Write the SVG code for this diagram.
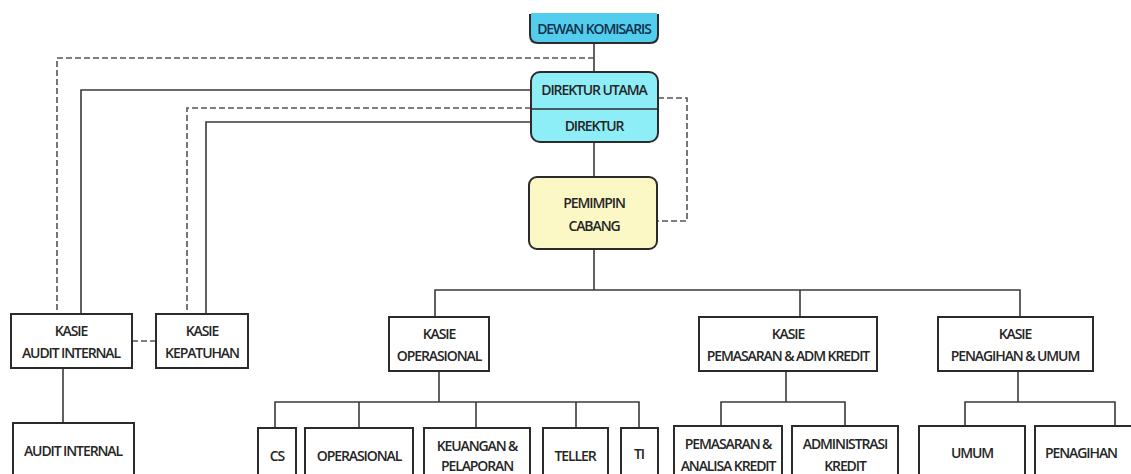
<svg xmlns="http://www.w3.org/2000/svg" width="1131" height="474" viewBox="0 0 1131 474">
<style>
.bx{fill:#fff;stroke:#2b2b2b;stroke-width:2}
.t{font-family:"Open Sans","Liberation Sans",sans-serif;font-size:14px;font-weight:600;fill:#262626;text-anchor:middle;dominant-baseline:central;letter-spacing:-1.1px}
.ln{fill:none;stroke:#3a3a3a;stroke-width:1.6}
.ds{fill:none;stroke:#555;stroke-width:1.6;stroke-dasharray:6 3}
</style>
<rect width="1131" height="474" fill="#fff"/>
<g id="connectors">
<line class="ln" x1="594" y1="43" x2="594" y2="72"/>
<path class="ds" d="M594 58 H57 V314"/>
<path class="ln" d="M531 90 H81 V314"/>
<path class="ds" d="M531 108 H187 V314"/>
<path class="ln" d="M531 122 H206 V314"/>
<path class="ds" d="M658 98 H687 V221 H657"/>
<line class="ln" x1="594" y1="142" x2="594" y2="177"/>
<line class="ln" x1="594" y1="249" x2="594" y2="290"/>
<path class="ln" d="M435 317 V290 H1020 V317"/>
<line class="ln" x1="800" y1="290" x2="800" y2="317"/>
<line class="ds" x1="132" y1="341" x2="156" y2="341"/>
<line class="ln" x1="63" y1="368" x2="63" y2="423"/>
<line class="ln" x1="439" y1="371" x2="439" y2="402"/>
<path class="ln" d="M275 428 V402 H639 V428"/>
<line class="ln" x1="359" y1="402" x2="359" y2="428"/>
<line class="ln" x1="476" y1="402" x2="476" y2="428"/>
<line class="ln" x1="576" y1="402" x2="576" y2="428"/>
<line class="ln" x1="786" y1="371" x2="786" y2="402"/>
<path class="ln" d="M721 426 V402 H845 V426"/>
<line class="ln" x1="1018" y1="371" x2="1018" y2="402"/>
<path class="ln" d="M965 426 V402 H1115 V426"/>
</g>
<g id="dewan">
<path d="M530 14 V35 Q530 43 538 43 H650 Q658 43 658 35 V14" fill="#52cdee" stroke="#2b2b2b" stroke-width="2"/>
<rect x="531" y="13" width="126" height="2" fill="#52cdee"/>
<text class="t" x="594" y="28" style="fill:#10304a">DEWAN KOMISARIS</text>
</g>
<g id="direktur">
<rect x="531" y="72" width="127" height="70" rx="9" fill="#8eeef8" stroke="#2b2b2b" stroke-width="2"/>
<line x1="531" y1="109" x2="658" y2="109" stroke="#2b2b2b" stroke-width="1.6"/>
<text class="t" x="594" y="89">DIREKTUR UTAMA</text>
<text class="t" x="594" y="125">DIREKTUR</text>
</g>
<g id="pemimpin">
<rect x="529" y="177" width="128" height="72" rx="8" fill="#fbf8c6" stroke="#2b2b2b" stroke-width="2"/>
<text class="t" x="594" y="202">PEMIMPIN</text>
<text class="t" x="594" y="225">CABANG</text>
</g>
<g id="kasie-audit">
<rect class="bx" x="11" y="314" width="121" height="54"/>
<text class="t" x="71" y="330">KASIE</text>
<text class="t" x="71" y="352">AUDIT INTERNAL</text>
</g>
<g id="kasie-kepatuhan">
<rect class="bx" x="156" y="314" width="92" height="54"/>
<text class="t" x="202" y="330">KASIE</text>
<text class="t" x="202" y="352">KEPATUHAN</text>
</g>
<g id="kasie-operasional">
<rect class="bx" x="389" y="317" width="100" height="54"/>
<text class="t" x="439" y="333">KASIE</text>
<text class="t" x="439" y="355">OPERASIONAL</text>
</g>
<g id="kasie-pemasaran">
<rect class="bx" x="699" y="317" width="178" height="54"/>
<text class="t" x="788" y="333">KASIE</text>
<text class="t" x="788" y="355">PEMASARAN &amp; ADM KREDIT</text>
</g>
<g id="kasie-penagihan">
<rect class="bx" x="938" y="317" width="155" height="54"/>
<text class="t" x="1015" y="333">KASIE</text>
<text class="t" x="1015" y="355">PENAGIHAN &amp; UMUM</text>
</g>
<g id="audit-internal">
<rect class="bx" x="13" y="423" width="121" height="70"/>
<text class="t" x="73" y="450">AUDIT INTERNAL</text>
</g>
<g id="cs">
<rect class="bx" x="258" y="428" width="38" height="70"/>
<text class="t" x="277" y="455">CS</text>
</g>
<g id="operasional">
<rect class="bx" x="305" y="428" width="108" height="70"/>
<text class="t" x="359" y="455">OPERASIONAL</text>
</g>
<g id="keuangan">
<rect class="bx" x="424" y="428" width="106" height="70"/>
<text class="t" x="477" y="445">KEUANGAN &amp;</text>
<text class="t" x="477" y="465">PELAPORAN</text>
</g>
<g id="teller">
<rect class="bx" x="543" y="428" width="65" height="70"/>
<text class="t" x="575" y="455">TELLER</text>
</g>
<g id="ti">
<rect class="bx" x="621" y="428" width="37" height="70"/>
<text class="t" x="639" y="453">TI</text>
</g>
<g id="pemasaran-analisa">
<rect class="bx" x="674" y="426" width="108" height="70"/>
<text class="t" x="728" y="443">PEMASARAN &amp;</text>
<text class="t" x="728" y="465">ANALISA KREDIT</text>
</g>
<g id="administrasi">
<rect class="bx" x="792" y="426" width="106" height="70"/>
<text class="t" x="845" y="443">ADMINISTRASI</text>
<text class="t" x="845" y="465">KREDIT</text>
</g>
<g id="umum">
<rect class="bx" x="919" y="426" width="106" height="70"/>
<text class="t" x="972" y="452">UMUM</text>
</g>
<g id="penagihan">
<rect class="bx" x="1035" y="426" width="100" height="70"/>
<text class="t" x="1081" y="452">PENAGIHAN</text>
</g>
</svg>
